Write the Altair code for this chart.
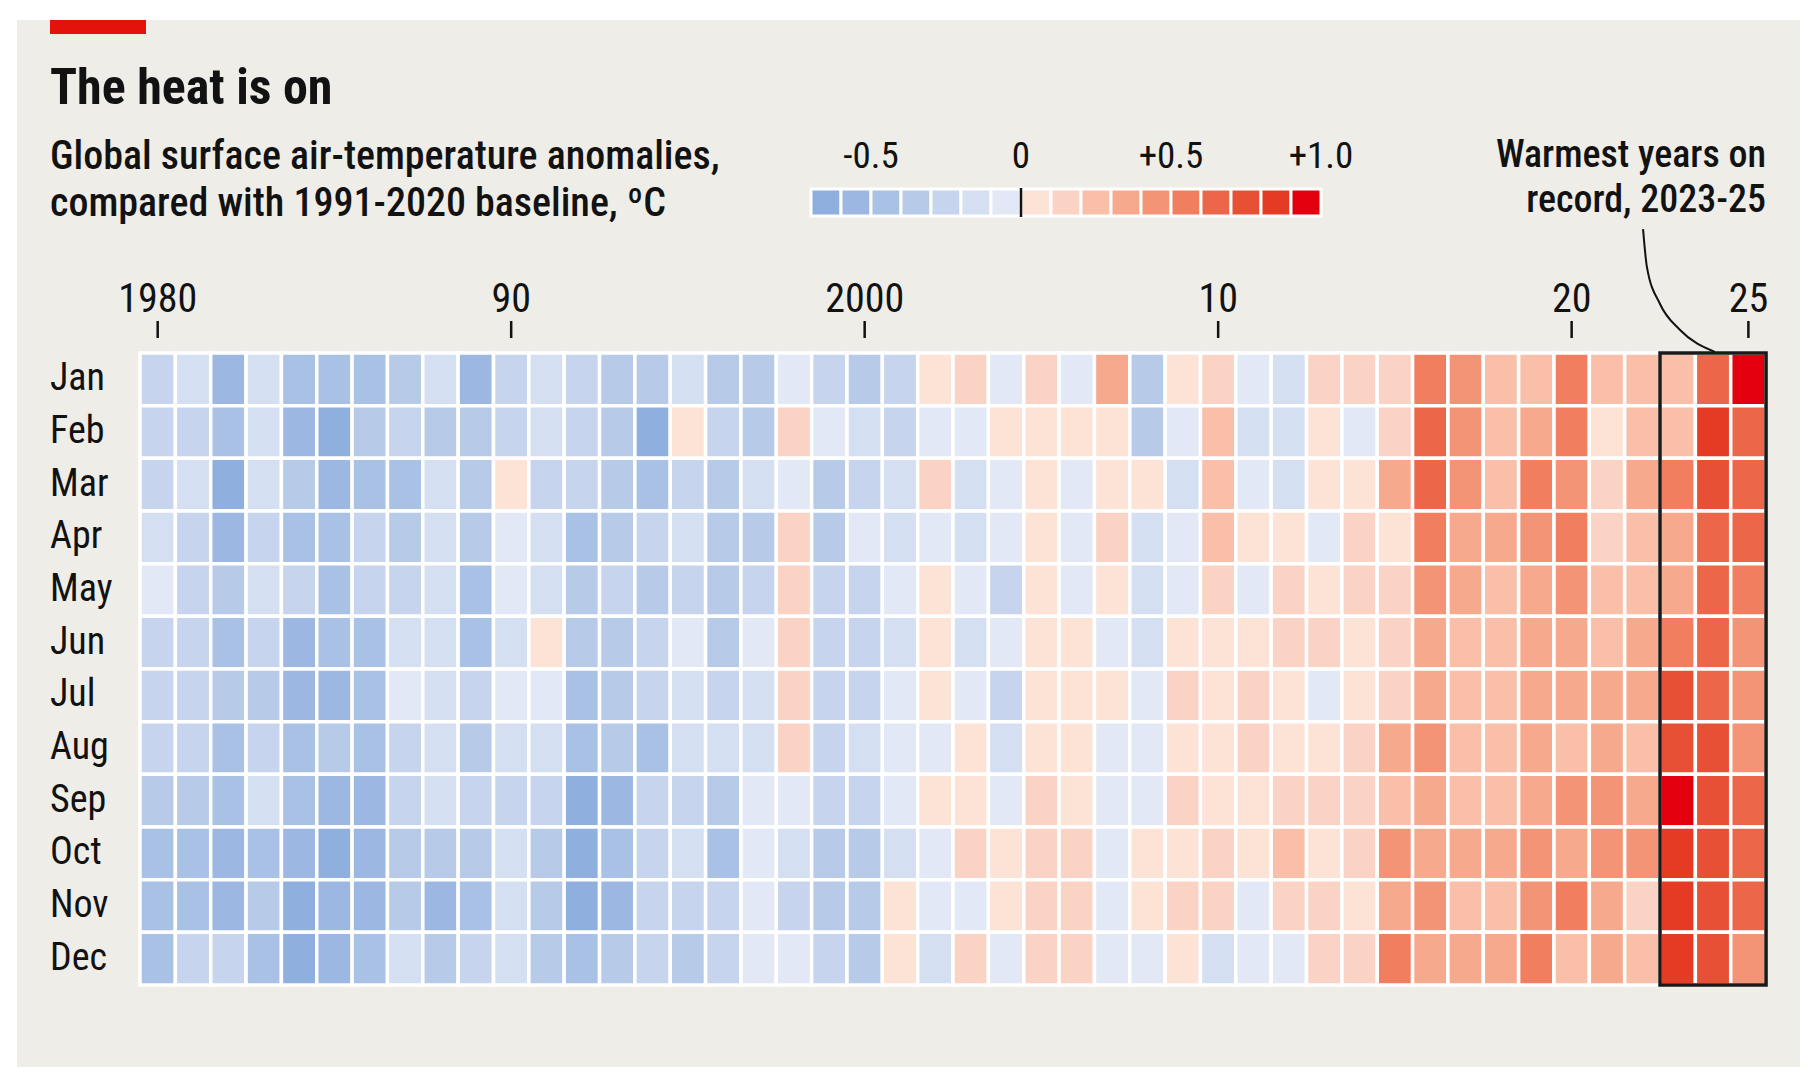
import altair as alt
import pandas as pd

FONT = "Liberation Sans Narrow, Roboto Condensed, Roboto, sans-serif"
BG = "#efede7"
INK = "#121212"

title_text = "The heat is on"
subtitle_lines = ["Global surface air-temperature anomalies,", "compared with 1991-2020 baseline, ºC"]
note_lines = ["Warmest years on", "record, 2023-25"]

years = list(range(1980, 2026))
month_names = ["Jan", "Feb", "Mar", "Apr", "May", "Jun", "Jul", "Aug", "Sep", "Oct", "Nov", "Dec"]

# anomalies, ºC, 1980..2025 (bin midpoints)
jan = [-0.25, -0.15, -0.55, -0.15, -0.45, -0.45, -0.45, -0.35, -0.15, -0.55, -0.25, -0.15,
       -0.25, -0.35, -0.35, -0.15, -0.35, -0.35, -0.05, -0.25, -0.35, -0.25, 0.05, 0.15,
       -0.05, 0.15, -0.05, 0.35, -0.35, 0.05, 0.15, -0.05, -0.15, 0.15, 0.15,
       0.15, 0.55, 0.45, 0.25, 0.25, 0.55, 0.25, 0.25, 0.25, 0.65, 0.95]
feb = [-0.25, -0.25, -0.45, -0.15, -0.55, -0.65, -0.35, -0.25, -0.35, -0.35, -0.25, -0.15,
       -0.25, -0.35, -0.65, 0.05, -0.25, -0.35, 0.15, -0.05, -0.15, -0.25, -0.05, -0.05,
       0.05, 0.05, 0.05, 0.05, -0.35, -0.05, 0.25, -0.15, -0.15, 0.05, -0.05,
       0.15, 0.65, 0.45, 0.25, 0.35, 0.55, 0.05, 0.25, 0.25, 0.85, 0.65]
mar = [-0.25, -0.15, -0.65, -0.15, -0.35, -0.55, -0.45, -0.45, -0.15, -0.35, 0.05, -0.25,
       -0.25, -0.35, -0.45, -0.25, -0.35, -0.15, -0.05, -0.35, -0.25, -0.15, 0.15, -0.15,
       -0.05, 0.05, -0.05, 0.05, 0.05, -0.15, 0.25, -0.05, -0.15, 0.05, 0.05,
       0.35, 0.65, 0.45, 0.25, 0.55, 0.45, 0.15, 0.35, 0.55, 0.75, 0.65]
apr = [-0.15, -0.25, -0.55, -0.25, -0.45, -0.45, -0.25, -0.35, -0.15, -0.35, -0.05, -0.15,
       -0.45, -0.35, -0.25, -0.15, -0.35, -0.35, 0.15, -0.35, -0.05, -0.15, -0.05, -0.15,
       -0.05, 0.05, -0.05, 0.15, -0.15, -0.05, 0.25, 0.05, 0.05, -0.05, 0.15,
       0.05, 0.55, 0.35, 0.35, 0.45, 0.55, 0.15, 0.25, 0.35, 0.65, 0.65]
may = [-0.05, -0.25, -0.35, -0.15, -0.25, -0.45, -0.25, -0.25, -0.15, -0.45, -0.05, -0.15,
       -0.35, -0.25, -0.35, -0.25, -0.35, -0.25, 0.15, -0.25, -0.25, -0.05, 0.05, -0.05,
       -0.25, 0.05, -0.05, 0.05, -0.15, -0.05, 0.15, -0.05, 0.15, 0.05, 0.15,
       0.15, 0.45, 0.35, 0.25, 0.35, 0.45, 0.25, 0.25, 0.35, 0.65, 0.55]
jun = [-0.25, -0.25, -0.45, -0.25, -0.55, -0.45, -0.45, -0.15, -0.15, -0.45, -0.15, 0.05,
       -0.35, -0.35, -0.25, -0.05, -0.35, -0.05, 0.15, -0.25, -0.25, -0.15, 0.05, -0.15,
       -0.05, 0.05, 0.05, -0.05, -0.15, 0.05, 0.05, 0.05, 0.15, 0.15, 0.05,
       0.15, 0.35, 0.25, 0.25, 0.35, 0.35, 0.25, 0.35, 0.55, 0.65, 0.45]
jul = [-0.25, -0.25, -0.35, -0.35, -0.55, -0.55, -0.45, -0.05, -0.15, -0.25, -0.05, -0.05,
       -0.45, -0.35, -0.25, -0.15, -0.25, -0.15, 0.15, -0.25, -0.25, -0.05, 0.05, -0.05,
       -0.25, 0.05, 0.05, 0.05, -0.05, 0.15, 0.05, 0.15, 0.05, -0.05, 0.05,
       0.15, 0.35, 0.25, 0.25, 0.35, 0.35, 0.35, 0.35, 0.75, 0.65, 0.45]
aug = [-0.25, -0.25, -0.45, -0.25, -0.45, -0.35, -0.45, -0.25, -0.15, -0.35, -0.15, -0.15,
       -0.45, -0.35, -0.45, -0.15, -0.15, -0.15, 0.15, -0.25, -0.15, -0.05, -0.05, 0.05,
       -0.15, 0.05, 0.05, -0.05, -0.05, 0.05, 0.05, 0.15, 0.05, 0.05, 0.15,
       0.35, 0.45, 0.25, 0.25, 0.35, 0.25, 0.35, 0.25, 0.75, 0.75, 0.45]
sep = [-0.35, -0.35, -0.45, -0.15, -0.45, -0.55, -0.55, -0.25, -0.15, -0.25, -0.25, -0.25,
       -0.65, -0.55, -0.25, -0.25, -0.35, -0.05, -0.05, -0.25, -0.25, -0.05, 0.05, 0.05,
       -0.05, 0.15, 0.05, -0.05, -0.05, 0.15, 0.05, 0.05, 0.15, 0.15, 0.15,
       0.25, 0.35, 0.25, 0.25, 0.35, 0.45, 0.45, 0.35, 0.95, 0.75, 0.65]
oct_ = [-0.45, -0.45, -0.55, -0.45, -0.55, -0.65, -0.55, -0.35, -0.35, -0.35, -0.15, -0.35,
        -0.65, -0.45, -0.25, -0.15, -0.45, -0.05, -0.15, -0.35, -0.35, -0.15, -0.05, 0.15,
        0.05, 0.15, 0.15, -0.05, 0.05, 0.05, 0.15, 0.05, 0.25, 0.05, 0.15,
        0.45, 0.35, 0.35, 0.35, 0.45, 0.35, 0.45, 0.45, 0.85, 0.75, 0.65]
nov = [-0.45, -0.45, -0.55, -0.35, -0.65, -0.55, -0.55, -0.35, -0.55, -0.45, -0.15, -0.35,
       -0.65, -0.55, -0.25, -0.25, -0.25, -0.05, -0.25, -0.35, -0.35, 0.05, -0.05, -0.05,
       0.05, 0.15, 0.15, -0.05, 0.05, 0.15, 0.15, -0.05, 0.15, 0.15, 0.05,
       0.35, 0.45, 0.25, 0.25, 0.45, 0.55, 0.35, 0.15, 0.85, 0.75, 0.65]
dec = [-0.45, -0.25, -0.25, -0.45, -0.65, -0.55, -0.45, -0.15, -0.35, -0.25, -0.15, -0.35,
       -0.45, -0.35, -0.25, -0.35, -0.25, -0.05, -0.05, -0.25, -0.35, 0.05, -0.15, 0.15,
       -0.05, 0.15, 0.15, -0.05, -0.05, 0.05, -0.15, -0.05, -0.05, 0.15, 0.15,
       0.55, 0.35, 0.35, 0.35, 0.55, 0.25, 0.35, 0.25, 0.85, 0.75, 0.45]
series = [jan, feb, mar, apr, may, jun, jul, aug, sep, oct_, nov, dec]

thresholds = [-0.6, -0.5, -0.4, -0.3, -0.2, -0.1, 0.0, 0.1, 0.2, 0.3, 0.4, 0.5, 0.6, 0.7, 0.8, 0.9]
palette = ["#8fafde", "#9cb8e2", "#a9c1e5", "#b7cbe9", "#c6d4ed", "#d4dff2", "#e2e8f5",
           "#fde2d6", "#fbd3c4", "#f9bfa8", "#f6a98d", "#f39476", "#f07e5f", "#ec6749",
           "#e85035", "#e53a23", "#e2000f"]
legend_edges = [-0.7, -0.6, -0.5, -0.4, -0.3, -0.2, -0.1, 0.0, 0.1, 0.2, 0.3, 0.4, 0.5,
                0.6, 0.7, 0.8, 0.9, 1.0]
legend_ticks = [-0.5, 0.0, 0.5, 1.0]
legend_tick_labels = ["-0.5", "0", "+0.5", "+1.0"]
axis_years = [1980, 1990, 2000, 2010, 2020, 2025]
axis_labels = ["1980", "90", "2000", "10", "20", "25"]
record_start, record_end = 2023, 2025
connector_year = [2022.02, 2022.13, 2022.50, 2023.06, 2024.05]
connector_row = [-1.85, -1.13, -0.43, 0.06, 0.48]

rows = []
for mi, (name, vals) in enumerate(zip(month_names, series), start=1):
    for y, v in zip(years, vals):
        rows.append({"year": y, "month": name, "row": mi, "anomaly": v})
heat_df = pd.DataFrame(rows)

xs_year = alt.Scale(domain=[1976.02, 2026.46], nice=False, zero=False)
xs_leg = alt.Scale(domain=[-3.3467, 2.5967], nice=False, zero=False)
ys = alt.Scale(domain=[-5.822, 14.057], nice=False, zero=False, reverse=True)
color_scale = alt.Scale(type="threshold", domain=thresholds, range=palette)


def text_layer(txt, x, y, size, weight="normal", align="left"):
    return alt.Chart(pd.DataFrame({"t": [txt]})).mark_text(
        align=align, baseline="alphabetic", font=FONT, fontSize=size,
        fontWeight=weight, color=INK
    ).encode(x=alt.value(x), y=alt.value(y), text="t:N")


red_bar = alt.Chart(pd.DataFrame({"a": [0]})).mark_rect(color="#e3120b").encode(
    x=alt.value(33), x2=alt.value(129), y=alt.value(0), y2=alt.value(14))

title = text_layer(title_text, 33, 84, 50, "bold")
sub1 = text_layer(subtitle_lines[0], 33, 149, 40, 500)
sub2 = text_layer(subtitle_lines[1], 33, 196, 40, 500)
note1 = text_layer(note_lines[0], 1749, 147, 38, 500, "right")
note2 = text_layer(note_lines[1], 1749, 192, 38, 500, "right")

leg_df = pd.DataFrame({"lo": legend_edges[:-1], "hi": legend_edges[1:]})
legend_boxes = alt.Chart(leg_df).transform_calculate(
    anomaly="(datum.lo + datum.hi) / 2"
).mark_rect(stroke="white", strokeWidth=3).encode(
    x=alt.X("lo:Q", scale=xs_leg, axis=None), x2="hi:Q",
    y=alt.value(169), y2=alt.value(196),
    color=alt.Color("anomaly:Q", scale=color_scale, legend=None))
legend_zero = alt.Chart(pd.DataFrame({"v": [0.0]})).mark_rule(color=INK, strokeWidth=2.5).encode(
    x=alt.X("v:Q", scale=xs_leg, axis=None), y=alt.value(168), y2=alt.value(197))
legend_text = alt.Chart(pd.DataFrame({"v": legend_ticks, "label": legend_tick_labels})).mark_text(
    align="center", baseline="alphabetic", font=FONT, fontSize=37, color=INK
).encode(x=alt.X("v:Q", scale=xs_leg, axis=None), y=alt.value(148), text="label:N")

axis_df = pd.DataFrame({"year": axis_years, "label": axis_labels})
axis_text = alt.Chart(axis_df).mark_text(
    align="center", baseline="alphabetic", font=FONT, fontSize=40, color=INK
).encode(x=alt.X("year:Q", scale=xs_year, axis=None), y=alt.value(292), text="label:N")
axis_ticks = alt.Chart(axis_df).mark_rule(color=INK, strokeWidth=2.5).encode(
    x=alt.X("year:Q", scale=xs_year, axis=None), y=alt.value(301), y2=alt.value(318))

month_df = pd.DataFrame({"month": month_names, "row": list(range(1, 13))})
month_labels = alt.Chart(month_df).mark_text(
    align="left", baseline="middle", font=FONT, fontSize=38, color=INK
).encode(x=alt.value(33), y=alt.Y("row:Q", scale=ys, axis=None), text="month:N")

heat = alt.Chart(heat_df).transform_calculate(
    x0="datum.year - 0.5", x1="datum.year + 0.5",
    y0="datum.row - 0.5", y1="datum.row + 0.5"
).mark_rect(stroke="white", strokeWidth=3.5).encode(
    x=alt.X("x0:Q", scale=xs_year, axis=None), x2="x1:Q",
    y=alt.Y("y0:Q", scale=ys, axis=None), y2="y1:Q",
    color=alt.Color("anomaly:Q", scale=color_scale, legend=None))

rec_df = pd.DataFrame({"start": [record_start], "end": [record_end], "r0": [1], "r1": [12]})
record_box = alt.Chart(rec_df).transform_calculate(
    x0="datum.start - 0.5", x1="datum.end + 0.5",
    y0="datum.r0 - 0.5", y1="datum.r1 + 0.5"
).mark_rect(fill="transparent", stroke="#1a1a1a", strokeWidth=3.5).encode(
    x=alt.X("x0:Q", scale=xs_year, axis=None), x2="x1:Q",
    y=alt.Y("y0:Q", scale=ys, axis=None), y2="y1:Q")

conn_df = pd.DataFrame({"year": connector_year, "row": connector_row,
                        "order": list(range(len(connector_year)))})
connector = alt.Chart(conn_df).mark_line(color=INK, strokeWidth=2, interpolate="monotone").encode(
    x=alt.X("year:Q", scale=xs_year, axis=None),
    y=alt.Y("row:Q", scale=ys, axis=None),
    order="order:Q")

chart = alt.layer(
    red_bar, title, sub1, sub2, note1, note2,
    legend_boxes, legend_zero, legend_text,
    axis_text, axis_ticks, month_labels,
    heat, record_box, connector
).resolve_scale(x="independent").properties(
    width=1783, height=1047,
    padding={"left": 9, "top": 12, "right": 0, "bottom": 0},
    autosize=alt.AutoSizeParams(type="none"),
    background="white"
).configure_view(fill=BG, strokeWidth=0)

chart.save("out.html", embed_options={"renderer": "svg", "actions": False})
